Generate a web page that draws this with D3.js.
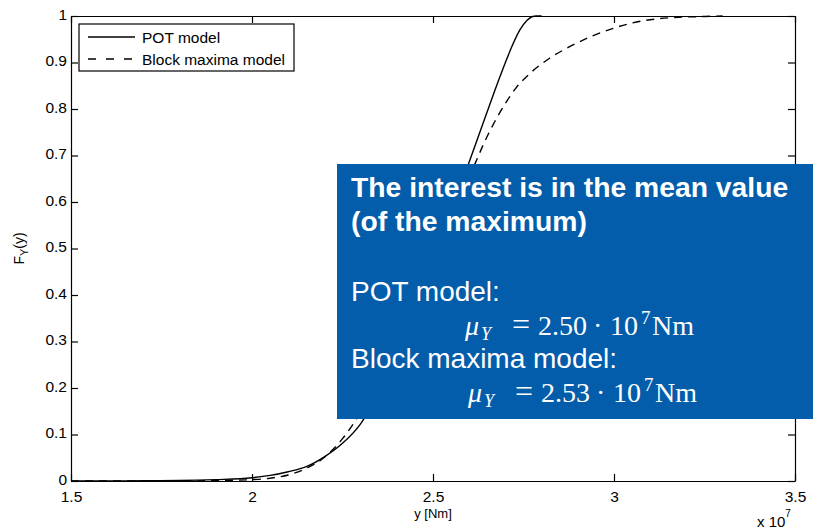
<!DOCTYPE html>
<html>
<head>
<meta charset="utf-8">
<script src="https://cdn.jsdelivr.net/npm/d3@7"></script>
<style>
  html, body { margin: 0; padding: 0; background: #fff; }
  svg { display: block; }
  text { font-family: "Liberation Sans", Arial, sans-serif; }
</style>
</head>
<body>
<svg id="chart" width="813" height="529"></svg>
<script>
// Load y in units of 1e7 Nm and the two distribution functions F_Y(y)
const potY   = [1.5, 1.6, 1.7, 1.8, 1.9, 2.0, 2.05, 2.1, 2.15, 2.2, 2.25, 2.3, 2.35, 2.4, 2.45, 2.5, 2.55, 2.6, 2.64, 2.67, 2.7, 2.72, 2.74, 2.76, 2.775, 2.785, 2.8];
const potF   = [0, 0.0002, 0.0005, 0.001, 0.003, 0.007, 0.012, 0.020, 0.031, 0.052, 0.081, 0.123, 0.190, 0.272, 0.365, 0.470, 0.578, 0.686, 0.773, 0.838, 0.900, 0.938, 0.970, 0.991, 0.999, 1.0, 1.0];

const blockY = [1.5, 1.8, 1.9, 2.0, 2.05, 2.1, 2.15, 2.2, 2.25, 2.29, 2.35, 2.4, 2.45, 2.5, 2.55, 2.616, 2.64, 2.67, 2.7, 2.73, 2.77, 2.82, 2.88, 2.94, 3.0, 3.05, 3.1, 3.15, 3.25, 3.3];
const blockF = [0, 0.0002, 0.0008, 0.003, 0.006, 0.013, 0.027, 0.051, 0.091, 0.135, 0.215, 0.290, 0.375, 0.465, 0.560, 0.682, 0.725, 0.772, 0.812, 0.846, 0.878, 0.908, 0.935, 0.957, 0.974, 0.985, 0.992, 0.996, 0.999, 1.0];

const xTicks = [1.5, 2, 2.5, 3, 3.5];
const yTicks = [0, 0.1, 0.2, 0.3, 0.4, 0.5, 0.6, 0.7, 0.8, 0.9, 1];
const seriesNames = ["POT model", "Block maxima model"];

const svg = d3.select("#chart");
const plotLeft = 71, plotRight = 795, plotTop = 16, plotBottom = 481;

const x = d3.scaleLinear().domain([1.5, 3.5]).range([plotLeft, plotRight]);
const y = d3.scaleLinear().domain([0, 1]).range([plotBottom, plotTop]);

const tickFont = "15.5px";

// Box axes with inward ticks on all four sides
const gB = svg.append("g").attr("transform", `translate(0,${plotBottom})`)
  .call(d3.axisBottom(x).tickValues(xTicks).tickFormat(d => String(d))
    .tickSizeInner(-7).tickSizeOuter(0).tickPadding(10));
const gL = svg.append("g").attr("transform", `translate(${plotLeft},0)`)
  .call(d3.axisLeft(y).tickValues(yTicks).tickFormat(d => String(d))
    .tickSizeInner(-7).tickSizeOuter(0).tickPadding(4));
const gT = svg.append("g").attr("transform", `translate(0,${plotTop})`)
  .call(d3.axisTop(x).tickValues(xTicks).tickFormat("")
    .tickSizeInner(-7).tickSizeOuter(0));
const gR = svg.append("g").attr("transform", `translate(${plotRight},0)`)
  .call(d3.axisRight(y).tickValues(yTicks).tickFormat("")
    .tickSizeInner(-7).tickSizeOuter(0));

[gB, gL, gT, gR].forEach(g => {
  g.attr("font-family", null).attr("font-size", null);
  g.selectAll("path, line").attr("stroke", "#000").attr("stroke-width", 1.2);
  g.selectAll("text").attr("fill", "#000").style("font-size", tickFont);
});
gL.selectAll("text").attr("dy", "0.22em");

// Distribution curves
const line = d3.line().x(d => x(d[0])).y(d => y(d[1])).curve(d3.curveMonotoneX);
const potData = potY.map((v, i) => [v, potF[i]]);
const blockData = blockY.map((v, i) => [v, blockF[i]]);

svg.append("path").datum(potData)
  .attr("d", line).attr("fill", "none").attr("stroke", "#000").attr("stroke-width", 1.4);
svg.append("path").datum(blockData)
  .attr("d", line).attr("fill", "none").attr("stroke", "#000").attr("stroke-width", 1.4)
  .attr("stroke-dasharray", "8,6");

// Axis labels
const yl = svg.append("text")
  .attr("transform", `translate(24,${(plotTop + plotBottom) / 2}) rotate(-90)`)
  .attr("text-anchor", "middle").style("font-size", "14px");
yl.append("tspan").text("F");
yl.append("tspan").attr("dy", 4).style("font-size", "11px").text("Y");
yl.append("tspan").attr("dy", -4).text("(y)");

svg.append("text").attr("x", x(2.5)).attr("y", 518)
  .attr("text-anchor", "middle").style("font-size", "13px").text("y [Nm]");

const ex = svg.append("text").attr("x", 757).attr("y", 527).style("font-size", "15px");
ex.append("tspan").text("x 10");
ex.append("tspan").attr("dy", -10).style("font-size", "10px").text("7");

// Legend
const lg = svg.append("g");
lg.append("rect").attr("x", 79).attr("y", 24).attr("width", 215).attr("height", 47)
  .attr("fill", "#fff").attr("stroke", "#000").attr("stroke-width", 1.2);
const lgRows = [{ name: seriesNames[0], dash: null, cy: 37 }, { name: seriesNames[1], dash: "8,10", cy: 59 }];
lgRows.forEach(r => {
  lg.append("line").attr("x1", 88).attr("x2", 135).attr("y1", r.cy).attr("y2", r.cy)
    .attr("stroke", "#000").attr("stroke-width", 1.4).attr("stroke-dasharray", r.dash);
  lg.append("text").attr("x", 142).attr("y", r.cy + 5.5).style("font-size", "15.5px").text(r.name);
});

// Annotation panel
const panel = svg.append("g");
panel.append("rect").attr("x", 337).attr("y", 164).attr("width", 476).attr("height", 255)
  .attr("fill", "#035DAA");

const tx = 351;
const boldLines = [["The interest is in the mean value", 197], ["(of the maximum)", 231]];
boldLines.forEach(([t, by]) => {
  panel.append("text").attr("x", tx).attr("y", by).attr("fill", "#fff")
    .style("font-size", "28.3px").style("font-weight", "bold").text(t);
});
panel.append("text").attr("x", tx).attr("y", 301).attr("fill", "#fff")
  .style("font-size", "28px").text("POT model:");
panel.append("text").attr("x", tx).attr("y", 368).attr("fill", "#fff")
  .style("font-size", "28px").text("Block maxima model:");

function meanLine(x0, by, value) {
  const t = panel.append("text").attr("y", by).attr("fill", "#fff")
    .style("font-family", "'Liberation Serif', 'Times New Roman', serif").style("font-size", "28px");
  t.append("tspan").attr("x", x0).style("font-style", "italic").text("μ");
  t.append("tspan").attr("x", x0 + 16).attr("dy", 5).style("font-style", "italic").style("font-size", "18px").text("Y");
  t.append("tspan").attr("x", x0 + 47).attr("dy", -5).style("font-size", "32px").text("=");
  t.append("tspan").attr("x", x0 + 73).style("font-size", "28px").text(value);
  t.append("tspan").attr("x", x0 + 128).text("·");
  t.append("tspan").attr("x", x0 + 145).text("10");
  t.append("tspan").attr("x", x0 + 176).attr("dy", -11).style("font-size", "19px").text("7");
  t.append("tspan").attr("x", x0 + 187).attr("dy", 11).text("Nm");
}
meanLine(465, 335, "2.50");
meanLine(468, 402, "2.53");
</script>
</body>
</html>
